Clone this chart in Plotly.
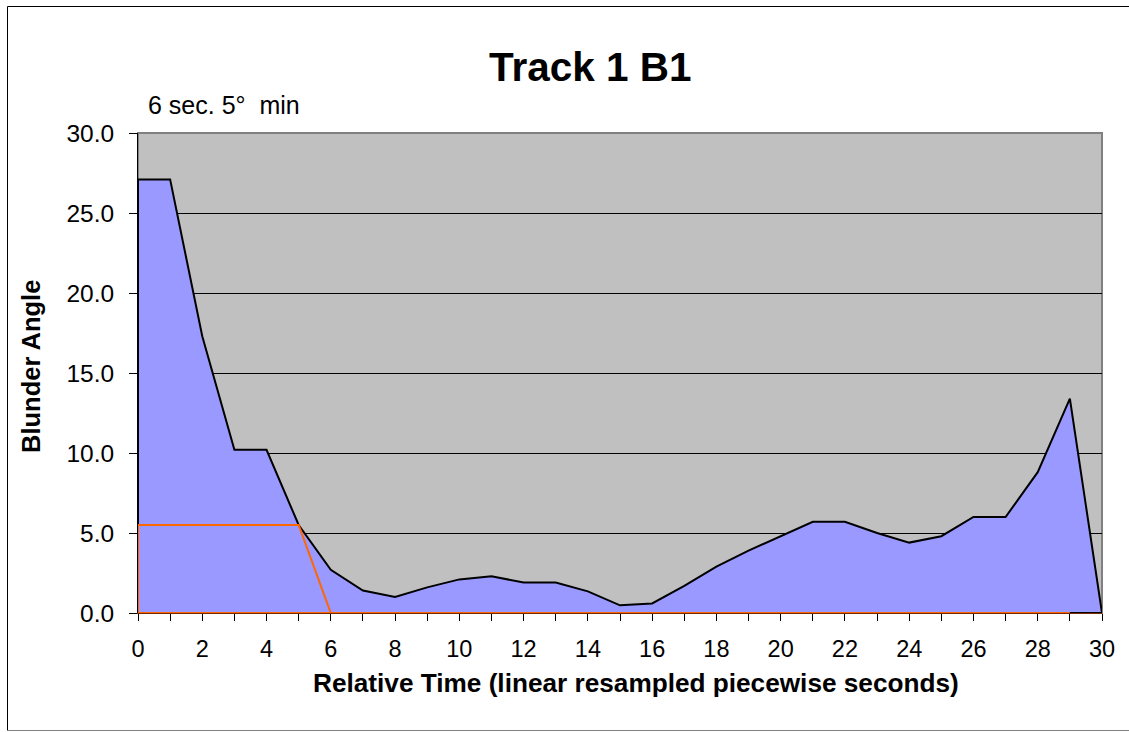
import plotly.graph_objects as go

# Relative time in seconds (linear resampled, piecewise)
time_s = list(range(31))

# Blunder angle (degrees) for Track 1 B1
blunder_angle = [27.1, 27.1, 17.3, 10.2, 10.2, 5.5, 2.7, 1.4, 1.0, 1.6,
                 2.1, 2.3, 1.9, 1.9, 1.35, 0.48, 0.6, 1.7, 2.9, 3.9,
                 4.8, 5.7, 5.7, 5.0, 4.4, 4.8, 6.0, 6.0, 8.8, 13.4,
                 0.0]

# 6 sec. / 5 degree minimum threshold envelope
threshold_time = list(range(30))
threshold = [5.5, 5.5, 5.5, 5.5, 5.5, 5.5, 0.0, 0.0, 0.0, 0.0,
             0.0, 0.0, 0.0, 0.0, 0.0, 0.0, 0.0, 0.0, 0.0, 0.0,
             0.0, 0.0, 0.0, 0.0, 0.0, 0.0, 0.0, 0.0, 0.0, 0.0]

y_ticks = [0, 5, 10, 15, 20, 25, 30]
x_ticks = list(range(0, 31, 2))

FONT = "Arial, 'Liberation Sans', Helvetica, sans-serif"

W, H = 1129, 732
L, R, T, B = 138, 27, 133, 119
PW, PH = W - L - R, H - T - B


def px_x(px):
    return (px - L) / PW


def px_y(py):
    return (H - B - py) / PH


fig = go.Figure()

# Filled area for the blunder angle, closed down to the baseline
fig.add_trace(go.Scatter(
    x=[time_s[0]] + time_s + [time_s[0]],
    y=[0] + blunder_angle + [0],
    mode="lines",
    fill="toself",
    fillcolor="#9999FF",
    line=dict(color="black", width=2),
    hoverinfo="skip",
    showlegend=False,
))

# Threshold envelope outline
fig.add_trace(go.Scatter(
    x=[threshold_time[0]] + threshold_time + [threshold_time[0]],
    y=[0] + threshold + [0],
    mode="lines",
    line=dict(color="#FF6600", width=2),
    hoverinfo="skip",
    showlegend=False,
))

fig.update_layout(
    width=W, height=H, autosize=False,
    margin=dict(l=L, r=R, t=T, b=B, pad=0),
    paper_bgcolor="white",
    plot_bgcolor="#C0C0C0",
    font=dict(family=FONT, size=24, color="black"),
    showlegend=False,
)

fig.update_xaxes(
    range=[0, 30],
    tickvals=x_ticks,
    ticks="outside", ticklen=7, tickwidth=1, tickcolor="black",
    minor=dict(dtick=1, ticks="outside", ticklen=7, tickwidth=1,
               tickcolor="black", showgrid=False),
    showgrid=False, zeroline=False,
    showline=True, linecolor="#7A2800", linewidth=1,
    tickfont=dict(size=23.5),
    ticklabelstandoff=8,
    fixedrange=True,
)

fig.update_yaxes(
    range=[0, 30],
    tickvals=y_ticks,
    tickformat=".1f",
    ticks="outside", ticklen=8, tickwidth=1, tickcolor="black",
    showgrid=True, gridcolor="black", gridwidth=1,
    zeroline=False,
    showline=True, linecolor="black", linewidth=1,
    tickfont=dict(size=24.5),
    ticklabelstandoff=10,
    fixedrange=True,
)

# Plot area frame
fig.add_shape(type="rect", xref="paper", yref="paper", x0=0, x1=1, y0=0, y1=1,
              line=dict(color="#808080", width=2), layer="below")

# Outer chart frame (top, left and bottom edges; right edge runs off the page)
frame_left, frame_right = px_x(7.5), px_x(1200)
frame_top, frame_bottom = px_y(6.5), px_y(730.5)
for x0, y0, x1, y1, col in [
    (frame_left, frame_top, frame_right, frame_top, "black"),
    (frame_left, frame_top, frame_left, frame_bottom, "black"),
    (frame_left, frame_bottom, frame_right, frame_bottom, "#808080"),
]:
    fig.add_shape(type="line", xref="paper", yref="paper",
                  x0=x0, y0=y0, x1=x1, y1=y1, line=dict(color=col, width=1))

fig.add_annotation(text="<b>Track 1 B1</b>", xref="paper", yref="paper",
                   x=px_x(590), y=px_y(67), xanchor="center", yanchor="middle",
                   showarrow=False, font=dict(size=40.5))
fig.add_annotation(text="6 sec. 5°  min", xref="paper", yref="paper",
                   x=px_x(146), y=px_y(105), xanchor="left", yanchor="middle",
                   showarrow=False, font=dict(size=25))
fig.add_annotation(text="<b>Relative Time (linear resampled piecewise seconds)</b>",
                   xref="paper", yref="paper",
                   x=px_x(635.5), y=px_y(683), xanchor="center", yanchor="middle",
                   showarrow=False, font=dict(size=26.2))
fig.add_annotation(text="<b>Blunder Angle</b>", xref="paper", yref="paper",
                   x=px_x(31), y=px_y(367), xanchor="center", yanchor="middle",
                   textangle=-90, showarrow=False, font=dict(size=25.5))

fig.write_html("out.html")
